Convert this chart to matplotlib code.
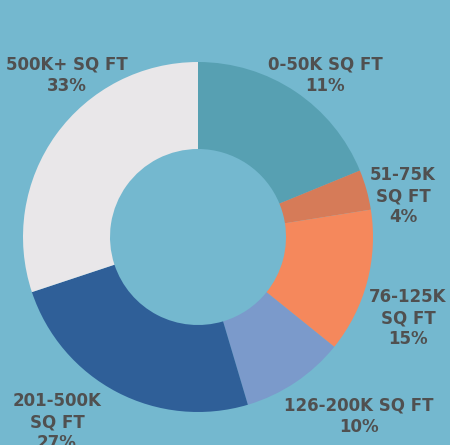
import matplotlib.pyplot as plt

# slice sizes as drawn (the printed percentages differ from the drawn arcs)
categories = ['0-50K SQ FT', '51-75K SQ FT', '76-125K SQ FT',
              '126-200K SQ FT', '201-500K SQ FT', '500K+ SQ FT']
drawn_values = [18.8, 3.7, 13.3, 9.6, 24.5, 30.1]
label_texts = ['0-50K SQ FT\n11%', '51-75K\nSQ FT\n4%', '76-125K\nSQ FT\n15%',
               '126-200K SQ FT\n10%', '201-500K\nSQ FT\n27%', '500K+ SQ FT\n33%']
colors = ['#57a0b2', '#d67b58', '#f5885c', '#7b9acb', '#2f5f98', '#e9e7e9']

# label anchor points in pixels (x, y from top)
label_pos = [(325, 75), (403, 196), (408, 318), (359, 416), (57, 422), (67, 75)]

W, H = 450, 445
bg = '#74b8cf'

fig = plt.figure(figsize=(W / 100, H / 100), dpi=100, facecolor=bg)
ax = fig.add_axes([0, 0, 1, 1])
ax.set_facecolor(bg)
ax.set_xlim(0, W)
ax.set_ylim(0, H)
ax.set_aspect('equal')
ax.axis('off')

outer_r = 175
ax.pie(drawn_values, colors=colors, startangle=90, counterclock=False,
       radius=outer_r, center=(198, H - 237), frame=True,
       wedgeprops=dict(width=87, linewidth=0))
ax.set_xlim(0, W)
ax.set_ylim(0, H)
ax.axis('off')

for txt, (x, y) in zip(label_texts, label_pos):
    ax.text(x, H - y, txt, ha='center', va='center', fontsize=12,
            fontweight='bold', color='#505050', linespacing=1.25,
            family='DejaVu Sans')

fig.savefig('out.png', dpi=100, facecolor=bg)
